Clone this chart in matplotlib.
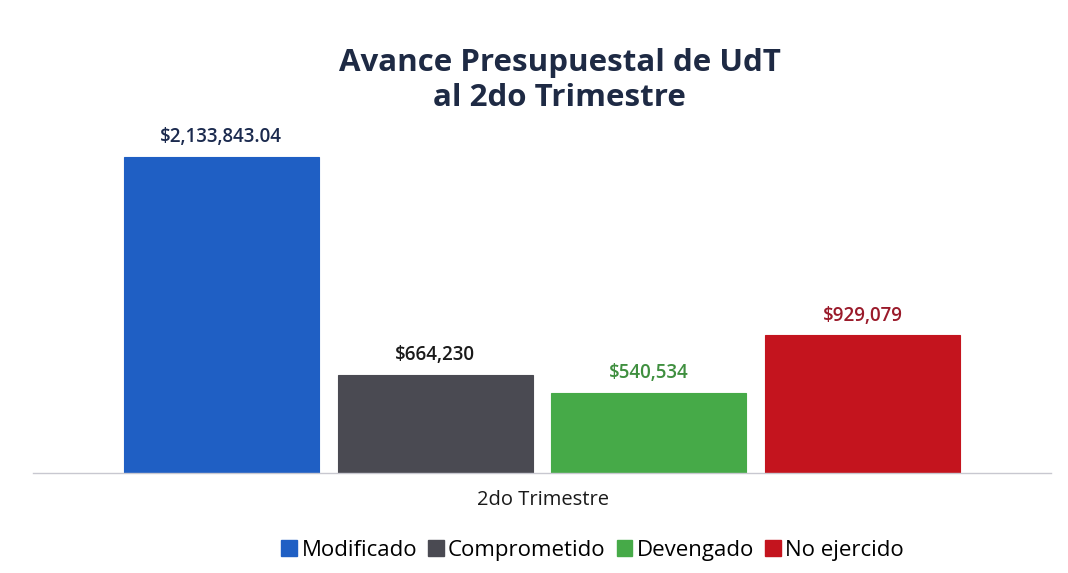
import numpy as np
import matplotlib.pyplot as plt
from matplotlib.patches import Patch

# data
category = "2do Trimestre"
series = ["Modificado", "Comprometido", "Devengado", "No ejercido"]
values = [2133843.04, 664230, 540534, 929079]
value_labels = ["$2,133,843.04", "$664,230", "$540,534", "$929,079"]

bar_colors = ["#1f5fc4", "#4a4a52", "#46aa48", "#c4141e"]
label_colors = ["#1b2a4e", "#1a1a1a", "#3f8f3f", "#9a1a2a"]

plt.rcParams['font.family'] = ['Open Sans', 'DejaVu Sans']

fig = plt.figure(figsize=(10.68, 5.73), dpi=100)
ax = fig.add_axes([0.0309, 0.1745, 0.9532, 0.651])

width = 0.1916
step = 0.21
offsets = (np.arange(len(series)) - 1.5) * step
for i in range(len(series)):
    ax.bar(offsets[i], values[i], width=width, color=bar_colors[i],
           edgecolor=bar_colors[i], linewidth=0.8)
    ax.text(offsets[i], values[i] + 65000, value_labels[i], ha='center',
            va='bottom', fontsize=13.5, fontweight='semibold', color=label_colors[i])

ax.set_xlim(-0.5, 0.5)
ax.set_ylim(0, 2.519e6)
ax.set_xticks([])
ax.set_yticks([])
for s in ['top', 'right', 'left']:
    ax.spines[s].set_visible(False)
ax.spines['bottom'].set_color('#c8c8d0')
ax.spines['bottom'].set_linewidth(1.0)

fig.text(0.524, 0.859, "Avance Presupuestal de UdT\nal 2do Trimestre", ha='center',
         va='center', fontsize=22.5, fontweight='bold', color='#1e2a44',
         linespacing=1.2)

fig.text(0.508, 0.127, category, ha='center', va='center', fontsize=14.5,
         color='#1a1a1a')

handles = [Patch(facecolor=c, edgecolor=c) for c in bar_colors]
fig.legend(handles, series, loc='center', bbox_to_anchor=(0.555, 0.04), ncol=4,
           frameon=False, fontsize=16, handlelength=0.7, handleheight=0.7,
           handletextpad=0.2, columnspacing=0.5)

fig.savefig("out.png", dpi=100, facecolor='white')
